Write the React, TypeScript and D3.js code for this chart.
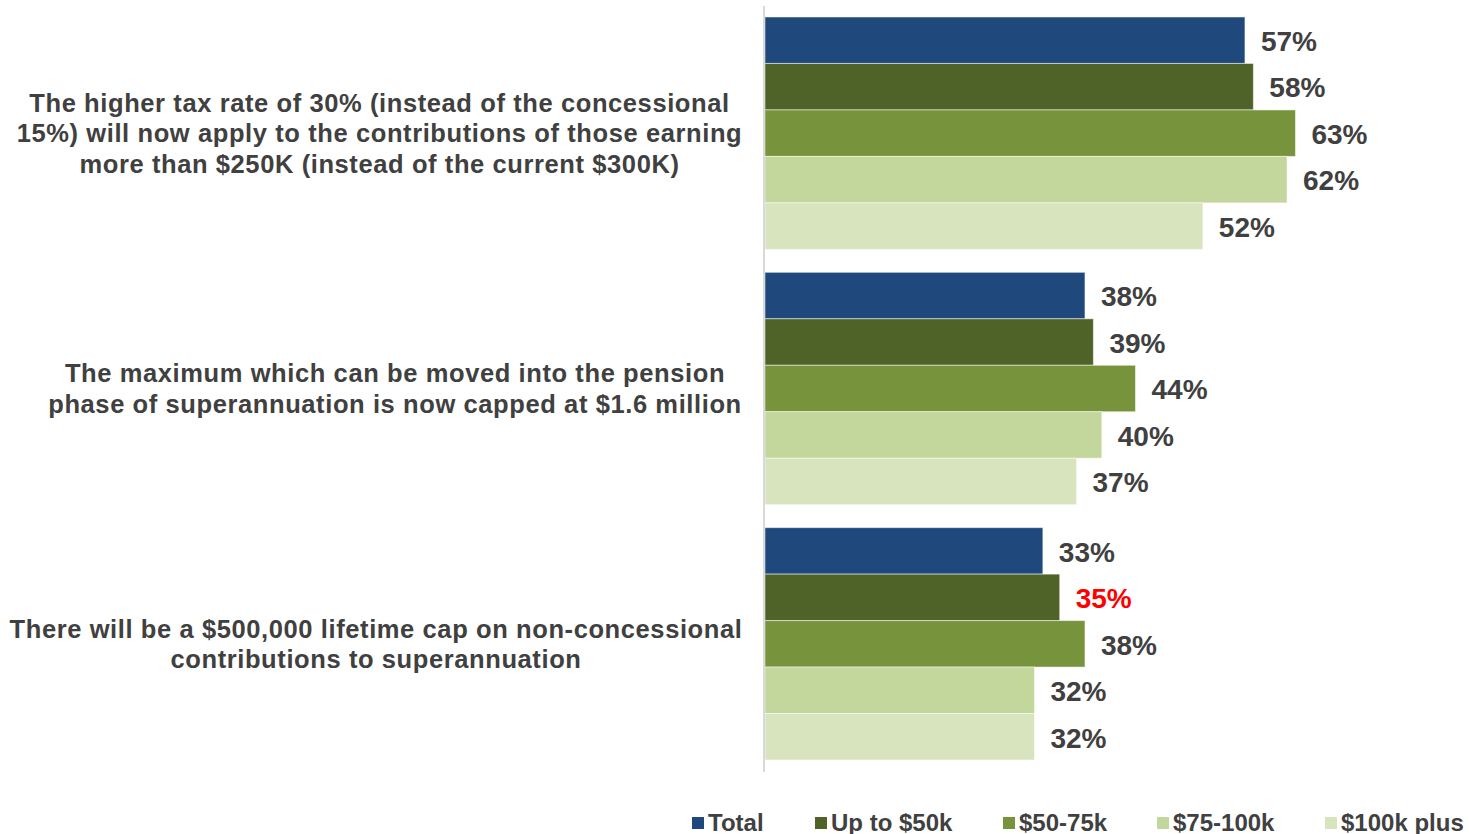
import React from "react";
import * as d3 from "d3";

const categories = [
  ["The higher tax rate of 30% (instead of the concessional", "15%) will now apply to the contributions of those earning", "more than $250K (instead of the current $300K)"],
  ["The maximum which can be moved into the pension", "phase of superannuation is now capped at $1.6 million"],
  ["There will be a $500,000 lifetime cap on non-concessional", "contributions to superannuation"],
];
const seriesNames = ["Total", "Up to $50k", "$50-75k", "$75-100k", "$100k plus"];
const seriesColors = ["#1F497D", "#4F6228", "#77933C", "#C3D69B", "#D7E4BD"];
const totalValues = [57, 38, 33];
const upTo50Values = [58, 39, 35];
const v50to75Values = [63, 44, 38];
const v75to100Values = [62, 40, 32];
const v100plusValues = [52, 37, 32];
const seriesValues = [totalValues, upTo50Values, v50to75Values, v75to100Values, v100plusValues];
const highlighted = { series: 1, category: 2 };

const legendX = [692, 815, 1003, 1157, 1325];
const labelCenterX = [379.5, 395, 376];

export default function App() {
  const W = 1469, H = 834;
  const x0 = 765;
  const x = d3.scaleLinear().domain([0, 100]).range([x0, x0 + 842]);
  const y = d3.scaleBand<number>().domain([0, 1, 2]).range([5.5, 771.5]).paddingInner(0.09).paddingOuter(0.045);
  const inner = d3.scaleBand<number>().domain([0, 1, 2, 3, 4]).range([0, y.bandwidth()]);
  const font = "'Liberation Sans', Arial, sans-serif";
  const textColor = "#404040";
  return (
    <svg width={W} height={H} style={{ position: "absolute", left: 0, top: 0 }} fontFamily={font}>
      <rect width={W} height={H} fill="#fff" />
      {categories.map((lines, ci) => {
        const cy = (y(ci) as number) + y.bandwidth() / 2;
        const lh = 30.5;
        const startY = cy - ((lines.length - 1) * lh) / 2;
        return (
          <g key={ci}>
            {lines.map((ln, li) => (
              <text key={li} x={labelCenterX[ci]} y={startY + li * lh} dy="0.35em" textAnchor="middle" fontSize={25.5} letterSpacing={0.6} fontWeight="bold" fill={textColor}>
                {ln}
              </text>
            ))}
            {seriesValues.map((vals, si) => {
              const by = (y(ci) as number) + (inner(si) as number);
              const v = vals[ci];
              const isHi = highlighted.series === si && highlighted.category === ci;
              return (
                <g key={si}>
                  <rect x={x(0)} y={by} width={x(v) - x(0)} height={inner.bandwidth()} fill={seriesColors[si]} stroke="#ffffff" strokeOpacity={0.5} strokeWidth={1} />
                  <text x={x(v) + 16} y={by + inner.bandwidth() / 2 + 1} dy="0.35em" fontSize={28} fontWeight="bold" fill={isHi ? "#FF0000" : textColor}>
                    {v}%
                  </text>
                </g>
              );
            })}
          </g>
        );
      })}
      <line x1={764} x2={764} y1={6} y2={772} stroke="#d9d9d9" strokeWidth={2} />
      {seriesNames.map((n, i) => (
        <g key={n}>
          <rect x={legendX[i]} y={817} width={12} height={12} fill={seriesColors[i]} />
          <text x={legendX[i] + 16} y={823} dy="0.35em" fontSize={24} fontWeight="bold" fill={textColor} fontFamily="'Liberation Sans Narrow', 'Arial Narrow', sans-serif">
            {n}
          </text>
        </g>
      ))}
    </svg>
  );
}
